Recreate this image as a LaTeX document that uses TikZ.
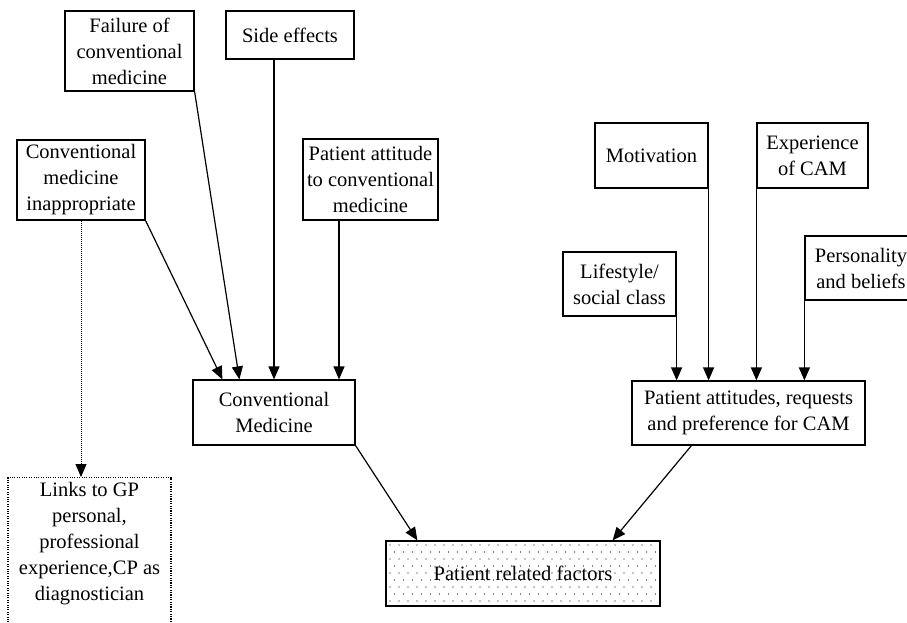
\documentclass[tikz,border=0pt]{standalone}
\usepackage{fontspec}
\setmainfont{Liberation Serif}
\usetikzlibrary{arrows.meta,calc}
\begin{document}
\begin{tikzpicture}[x=1pt,y=-1pt,
  box/.style={draw,line width=1.2pt,inner sep=0pt,align=center,font=\fontsize{20.5}{26}\selectfont},
  dotbox/.style={box,line width=1.1pt,dash pattern=on 1.1pt off 1.3pt},
  arr/.style={line width=1.2pt,-{Triangle[length=13pt,width=11pt]}},
  dotarr/.style={line width=0.9pt,dash pattern=on 1pt off 1pt,-{Triangle[length=13pt,width=11pt]}}]
\useasboundingbox (0,0) rectangle (907,622);
% left group
\node[box,minimum width=129pt,minimum height=80pt] (fail) at (129.5,51) {Failure of\\conventional\\medicine};
\node[box,minimum width=128pt,minimum height=48pt] (side) at (290,35) {Side effects};
\node[box,minimum width=128pt,minimum height=80pt] (cmi) at (81,180) {Conventional\\medicine\\inappropriate};
\node[box,minimum width=135pt,minimum height=81pt] (pat) at (370.5,179.5) {Patient attitude\\to conventional\\medicine};
\node[box,minimum width=162pt,minimum height=65pt] (cm) at (274,412.5) {Conventional\\Medicine};
% links box
\node[dotbox,minimum width=163pt,anchor=north,text depth=50pt,inner ysep=5pt] (links) at (89.5,477) {Links to GP\\personal,\\professional\\experience,CP as\\diagnostician};
% right group
\node[box,minimum width=113pt,minimum height=65pt] (mot) at (651.5,155.5) {Motivation};
\node[box,minimum width=111pt,minimum height=65pt] (exp) at (812.5,155.5) {Experience\\of CAM};
\node[box,minimum width=113pt,minimum height=64pt] (ls) at (619.5,284) {Lifestyle/\\social class};
\node[box,minimum width=112pt,minimum height=64pt] (pers) at (861,268) {Personality\\and beliefs};
\node[box,minimum width=233pt,minimum height=64pt] (pa) at (748.5,413) {Patient attitudes, requests\\and preference for CAM};
% patient related factors
\node[box,minimum width=274pt,minimum height=65pt] (prf) at (523,573.5) {};
\begin{scope}
\clip (prf.north west) rectangle (prf.south east);
\foreach \r in {0,...,9} {
  \pgfmathsetmacro{\yy}{545+7*\r}
  \pgfmathsetmacro{\off}{mod(\r,2)*4.5}
  \foreach \c in {0,...,31} {
    \fill ({390+\off+9*\c},\yy) circle (0.7pt);
  }
}
\end{scope}
\node[font=\fontsize{20.5}{26}\selectfont,inner sep=0pt] at (prf.center) {Patient related factors};
% connectors left
\draw[arr] (cmi.south east) -- ([xshift=30pt]cm.north west);
\draw[arr] (fail.south east) -- ([xshift=47pt]cm.north west);
\draw[arr] (cm.north |- side.south) -- (cm.north);
\draw[arr] ([xshift=65pt]cm.north |- pat.south) -- ([xshift=65pt]cm.north);
\draw[dotarr] (cmi.south) -- (cmi.south |- links.north);
% connectors right
\draw[arr] (ls.south east) -- (ls.south east |- pa.north);
\draw[arr] (mot.south east) -- (mot.south east |- pa.north);
\draw[arr] (exp.south west) -- (exp.south west |- pa.north);
\draw[arr] (pers.south west) -- (pers.south west |- pa.north);
% to patient related factors
\draw[arr] (cm.south east) -- ([xshift=32pt]prf.north west);
\draw[arr] ([xshift=60pt]pa.south west) -- ([xshift=-48pt]prf.north east);
\end{tikzpicture}
\end{document}
